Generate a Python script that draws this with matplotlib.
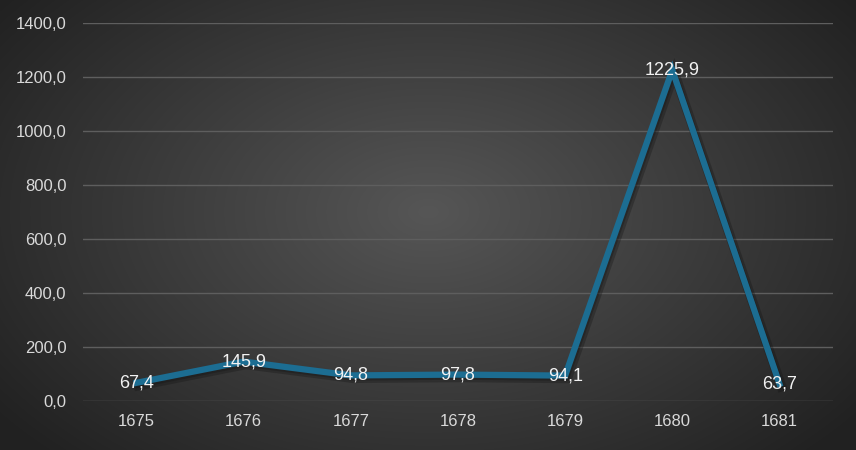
import numpy as np
import matplotlib
matplotlib.use("Agg")
import matplotlib.pyplot as plt
import matplotlib.patheffects as pe

years = ["1675", "1676", "1677", "1678", "1679", "1680", "1681"]
values = [67.4, 145.9, 94.8, 97.8, 94.1, 1225.9, 63.7]
yticks = [0, 200, 400, 600, 800, 1000, 1200, 1400]

plt.rcParams['font.family'] = ['Liberation Sans', 'DejaVu Sans']

W, H = 856, 450
fig = plt.figure(figsize=(W/100, H/100), dpi=100)

# radial gradient background
bg = fig.add_axes([0, 0, 1, 1])
yy, xx = np.mgrid[0:H, 0:W]
r = np.sqrt(((xx - W*0.5)/(W*0.62))**2 + ((yy - H*0.47)/(H*0.75))**2)
r = np.clip(r, 0, 1)
c0 = np.array([0x56, 0x56, 0x56])/255
c1 = np.array([0x22, 0x22, 0x22])/255
img = c0[None, None, :]*(1-r[..., None]) + c1[None, None, :]*r[..., None]
bg.imshow(img, aspect='auto', extent=[0, 1, 0, 1])
bg.set_axis_off()

ax = fig.add_axes([83/W, (H-401)/H, 750/W, (401-23)/H])
ax.patch.set_alpha(0)
x = np.arange(len(years))
ax.plot(x, values, color='#1c6d92', lw=4.5, solid_joinstyle='miter', zorder=3,
        path_effects=[pe.SimpleLineShadow(offset=(1.5, -2), shadow_color='#111111', alpha=0.3, linewidth=7),
                      pe.SimpleLineShadow(offset=(1, -1.5), shadow_color='#111111', alpha=0.3),
                      pe.Normal()])
for xi, v in zip(x, values):
    ax.text(xi, v, f"{v:.1f}".replace('.', ','), ha='center', va='center',
            color='#f2f2f2', fontsize=13, zorder=4)

ax.set_xlim(-0.5, len(years) - 0.5)
ax.set_ylim(0, 1400)
ax.set_yticks(yticks)
ax.set_yticklabels([f"{t:.1f}".replace('.', ',') for t in yticks])
ax.set_xticks(x)
ax.set_xticklabels(years)
ax.tick_params(colors='#d9d9d9', labelsize=12, length=0)
ax.tick_params(axis='y', pad=12)
ax.tick_params(axis='x', pad=9)
for s in ax.spines.values():
    s.set_visible(False)
ax.grid(axis='y', color='#5e5e5e', lw=1)
ax.set_axisbelow(True)

fig.savefig('out.png', dpi=100)
